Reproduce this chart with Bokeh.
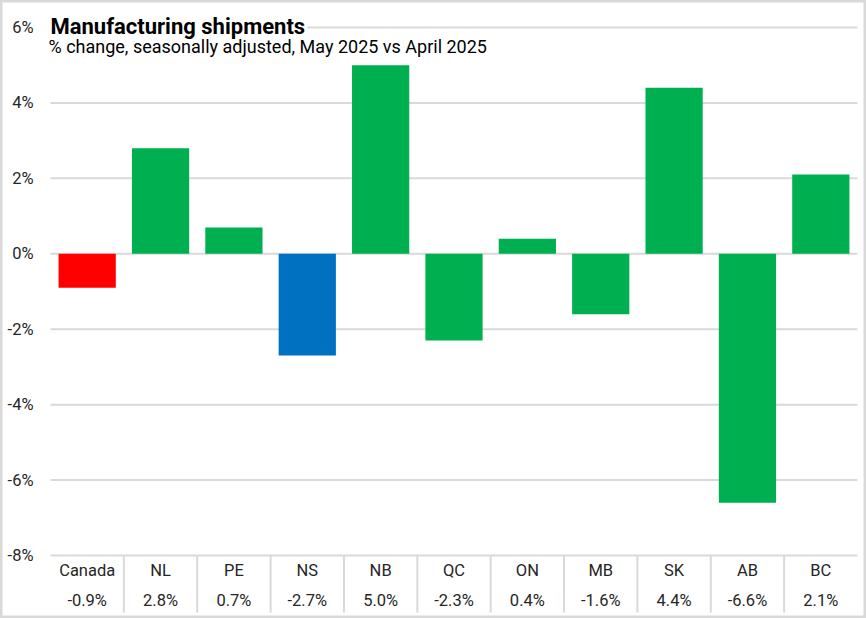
from bokeh.plotting import figure
from bokeh.models import Range1d, Label, ColumnDataSource
from bokeh.core.properties import value
from bokeh.embed import file_html
from bokeh.resources import INLINE

categories = ["Canada", "NL", "PE", "NS", "NB", "QC", "ON", "MB", "SK", "AB", "BC"]
values = [-0.9, 2.8, 0.7, -2.7, 5.0, -2.3, 0.4, -1.6, 4.4, -6.6, 2.1]
colors = ["#FF0000", "#00B050", "#00B050", "#0070C0", "#00B050", "#00B050",
          "#00B050", "#00B050", "#00B050", "#00B050", "#00B050"]
y_ticks = [-8, -6, -4, -2, 0, 2, 4, 6]
y_tick_labels = [f"{t}%" for t in y_ticks]
title_text = "Manufacturing shipments"
subtitle_text = "% change, seasonally adjusted, May 2025 vs April 2025"

FONT = "Roboto"
TXT = "#262626"
GRID = "#D9D9D9"

W, H = 866, 618
n = len(categories)
xs = list(range(n))
y_min, y_max = y_ticks[0], y_ticks[-1]

# pixel layout of the plotting area (inside the whole canvas)
left_px, right_px, top_px, bottom_px = 50, 857, 27, 555
xpu = (right_px - left_px) / n                 # px per category
ypu = (bottom_px - top_px) / (y_max - y_min)   # px per % point
x0 = -0.5 - left_px / xpu
x1 = n - 0.5 + (W - right_px) / xpu
y1 = y_max + top_px / ypu
y0 = y_min - (H - bottom_px) / ypu

sep_bottom = y_min - 57 / ypu
row1_y = y_min - 15 / ypu
row2_y = y_min - 45 / ypu
ylab_x = -0.5 - 17 / xpu

src = ColumnDataSource(dict(x=xs, top=values, color=colors, cat=categories,
                            val=[f"{v:.1f}%" for v in values]))
ysrc = ColumnDataSource(dict(y=y_ticks, lab=y_tick_labels))

p = figure(width=W, height=H, output_backend="svg", toolbar_location=None,
           x_range=Range1d(x0, x1), y_range=Range1d(y0, y1),
           min_border_left=0, min_border_right=0, min_border_top=0,
           min_border_bottom=0)
p.axis.visible = False
p.grid.visible = False
p.background_fill_color = "white"
p.border_fill_color = "white"
p.outline_line_color = GRID
p.outline_line_width = 4

# horizontal gridlines
p.segment(x0=-0.5, x1=n - 0.5, y0="y", y1="y", source=ysrc,
          line_color=GRID, line_width=2)

# bars
p.vbar(x="x", top="top", bottom=0, width=0.78, color="color",
       line_color=None, source=src)

# separators in the label table
seps = [i + 0.5 for i in xs[:-1]]
p.segment(x0=seps, x1=seps, y0=y_min, y1=sep_bottom, line_color=GRID, line_width=2)

# category names and values
p.text(x="x", y=row1_y, text="cat", source=src, text_align="center",
       text_baseline="middle", text_font=value(FONT), text_font_size="16.5px",
       text_color=TXT)
p.text(x="x", y=row2_y, text="val", source=src, text_align="center",
       text_baseline="middle", text_font=value(FONT), text_font_size="16.5px",
       text_color=TXT)

# y tick labels
p.text(x=ylab_x, y="y", text="lab", source=ysrc, text_align="right",
       text_baseline="middle", text_font=value(FONT), text_font_size="16.5px",
       text_color=TXT)

# titles
t1 = Label(x=-0.5, y=y_max, x_offset=-2, y_offset=1, text=title_text,
           text_font=FONT, text_font_size="22px", text_font_style="bold",
           text_color="black", text_baseline="alphabetic",
           background_fill_color="white", padding=2)
t2 = Label(x=-0.5, y=y_max, x_offset=-2, y_offset=-19, text=subtitle_text,
           text_font=FONT, text_font_size="18px", text_color="black",
           text_baseline="alphabetic")
p.add_layout(t1)
p.add_layout(t2)

open("out.html", "w").write(file_html(p, INLINE))
